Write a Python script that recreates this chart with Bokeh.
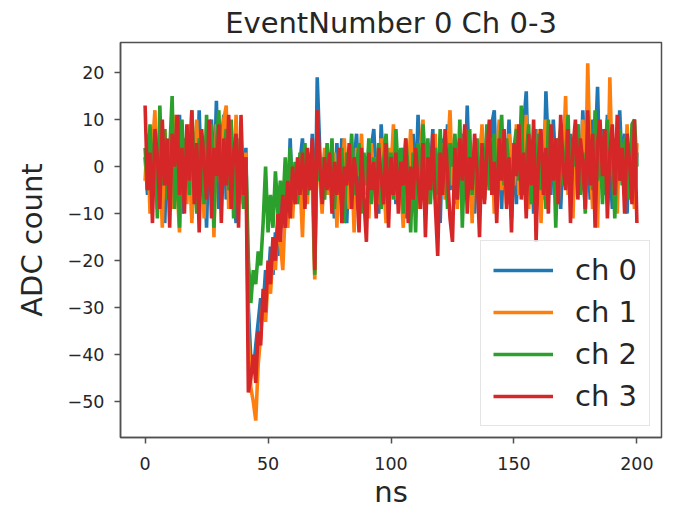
from bokeh.plotting import figure
from bokeh.embed import file_html
from bokeh.resources import INLINE
from bokeh.models import FixedTicker, Range1d, Legend, LegendItem

# ---------------- data (ADC samples, 1 ns spacing) ----------------
t_ns = list(range(0, 201))

ch0 = [2, -6, 8, -3, 10, -9, 4, 7, -12, 5,
       -4, 9, -7, 3, 11, -10, 6, -2, 8, -11,
       4, -8, 12, -5, 2, -13, 7, 10, -6, 14,
       -9, 5, 11, -7, 3, 9, -4, -12, 6, 1,
       -8, 4, -30, -41, -44, -38, -33, -28, -30, -22,
       -25, -17, -23, -14, -19, -8, -13, -4, -10, 6,
       -9, -2, -7, 1, 6, -6, 2, -5, 7, -20,
       19, 4, -9, 3, -6, 2, -3, -11, 5, -7,
       6, -2, -12, 3, -5, 1, 7, -8, 0, -4,
       2, -9, 4, 8, -3, -10, 9, -1, -6, 3,
       -4, 6, -8, 1, -5, 4, -11, 2, -3, 7,
       -6, 11, -4, 0, -9, 5, -2, 8, -7, 1,
       -12, 6, -3, 9, -5, 2, -8, 4, -1, 7,
       -6, 13, -4, 3, -10, 5, 0, 8, -7, 2,
       -5, 9, 12, -6, 3, -9, 6, -2, 10, -4,
       1, -8, 7, -3, 9, 16, -5, 4, -10, 8,
       -2, 5, -7, 16, 3, -6, 10, -1, 6, -9,
       4, 11, -3, 7, -8, 2, 9, -5, 12, -2,
       5, -7, 10, 3, 17, -4, 8, -6, 11, 1,
       -9, 6, -3, 12, -1, 7, -10, 5, 2, -8,
       3]

ch1 = [-3, 7, -10, 4, 12, -6, 1, -13, 8, -2,
       5, -9, 11, -4, -14, 6, 3, -8, 9, -12,
       2, 10, -7, 4, -11, 8, -3, 6, -15, 9,
       3, -6, 10, 13, -9, 5, -4, 11, -8, 2,
       -5, 3, -36, -47, -50, -54, -42, -36, -28, -33,
       -24, -27, -18, -22, -12, -16, -22, -9, -13, -4,
       -11, 0, -7, -3, -15, 2, -8, 3, -4, -24,
       8, -2, -10, 4, -6, 1, -8, 3, -13, 2,
       -5, 6, -3, -9, 1, -14, 4, -2, 7, -6,
       0, -11, 5, -4, 2, -8, 6, -3, -12, 4,
       -1, 9, -7, 2, -4, -13, 5, -2, 8, -6,
       1, -9, 4, 10, -3, -8, 2, -5, 7, -11,
       0, 5, -7, 3, 12, -4, 1, -9, 6, -2,
       8, -6, 3, -12, 5, 0, -3, 9, -7, 4,
       -1, 6, -10, 2, 10, -5, 3, -8, 7, 1,
       -4, 9, -6, 4, -2, 11, -9, 3, 6, -5,
       8, -12, 2, 10, -4, 7, -1, 5, -8, 9,
       0, 15, -6, 4, -11, 8, 2, -4, 10, -7,
       22, 1, -9, 6, -13, 9, -3, 5, -8, 19,
       -2, 4, -10, 7, 0, -6, 9, -4, 3, -9,
       5]

ch2 = [4, -5, 9, -2, 6, -11, 13, -4, 8, -7,
       3, 15, -9, 5, -13, 10, -3, 7, -6, 12,
       -1, -10, 6, 3, -8, 11, -4, 9, -13, 5,
       12, -7, 2, 8, -5, 10, -11, 6, 0, 4,
       -9, 2, -20, -29, -22, -25, -18, -21, -12, 0,
       -14, -6, -13, -1, -10, -3, -9, 2, -7, 4,
       -5, 1, -8, 3, -2, 5, -6, 0, 4, -23,
       10, -3, 2, -7, 5, -4, 6, -9, 1, -5,
       4, -12, 3, -2, 7, -6, 0, 5, -10, 3,
       -4, 6, -8, 2, -3, 5, -9, 1, 7, -5,
       3, -7, 8, -2, 4, -10, 6, -1, -14, 3,
       -14, 5, -4, 9, -2, 6, -8, 1, 4, -6,
       8, -3, 2, -9, 5, 0, 7, -4, 10, -13,
       3, -1, 8, -6, 2, 6, -9, 4, -2, 9,
       -5, 1, 7, -8, 3, 11, -4, 6, -1, -11,
       4, 8, -3, 13, -6, 2, 9, -8, 5, 0,
       7, -5, 3, -9, 10, -2, 6, -13, 4, 8,
       -4, 2, 11, -7, 5, 0, 9, -6, 3, -10,
       7, 1, -5, 12, -3, 6, -8, 4, 10, -2,
       5, -11, 3, 8, -4, 6, 1, -7, 9, 10,
       0]

ch3 = [13, -5, 3, -12, 8, 2, -9, 10, -4, 6,
       -13, 7, 0, 11, -6, 4, -10, 9, -3, 12,
       -8, 5, -14, 8, 1, -7, 10, -11, 4, -2,
       9, -12, 6, -4, 11, -9, 3, 7, -13, 11,
       -6, 2, -48, -45, -40, -46, -35, -38, -26, -31,
       -20, -25, -15, -20, -10, -16, -6, -13, -3, -11,
       0, -8, 2, -6, 3, -9, 4, -5, 6, -22,
       12, 1, -8, 2, -5, 3, -10, 1, -6, 4,
       -12, 0, -4, 5, -9, 2, -3, -14, 4, -7,
       -16, 3, -5, 1, -11, 4, -2, -8, 5, -13,
       2, -6, 3, -10, 1, -4, 6, -12, 0, -7,
       4, -3, -9, 5, -15, 2, -5, 7, -8, -19,
       3, -6, 8, -2, -11, -16, 4, -7, 6, -3,
       9, -10, 2, -5, 7, -1, -15, 5, -8, 3,
       10, -6, 1, -12, 6, -3, 8, -9, 2, -14,
       5, -2, 9, -7, 3, -11, 7, -4, 10, -16,
       2, 8, -6, 4, -10, 9, -3, 6, -8, 11,
       0, -5, 8, -12, 4, 10, -7, 6, 1, -9,
       12, -4, 7, -13, 5, 10, -2, 8, -11, 3,
       9, -6, 11, -3, 4, -10, 7, 1, -8, 10,
       -12]

series = [ch0, ch1, ch2, ch3]
labels = ["ch 0", "ch 1", "ch 2", "ch 3"]
colors = ["#1f77b4", "#ff7f0e", "#2ca02c", "#d62728"]
x_ticks = [0, 50, 100, 150, 200]
y_ticks = [-50, -40, -30, -20, -10, 0, 10, 20]

FONT = "DejaVu Sans"
TXT = "#262626"
AXC = "#505050"

p = figure(
    frame_width=541, frame_height=395,
    output_backend="svg", toolbar_location=None,
    x_range=Range1d(-10, 210), y_range=Range1d(-57.6, 26.4),
    min_border_left=120, min_border_right=10,
    min_border_top=41, min_border_bottom=62,
    title="EventNumber 0 Ch 0-3",
)
p.background_fill_color = "white"
p.border_fill_color = "white"
p.grid.visible = False
p.outline_line_color = AXC
p.outline_line_width = 1.5

p.title.text_font = FONT
p.title.text_font_size = "29px"
p.title.text_font_style = "normal"
p.title.text_color = TXT
p.title.align = "center"
p.title.standoff = 6

for ax in (p.xaxis[0], p.yaxis[0]):
    ax.axis_line_color = AXC
    ax.axis_line_width = 1.5
    ax.major_tick_line_color = AXC
    ax.major_tick_line_width = 1.5
    ax.major_tick_out = 6
    ax.major_tick_in = 0
    ax.minor_tick_line_color = None
    ax.major_label_text_font = FONT
    ax.major_label_text_font_size = "17.5px"
    ax.major_label_text_color = TXT
    ax.axis_label_text_font = FONT
    ax.axis_label_text_font_size = "29px"
    ax.axis_label_text_font_style = "normal"
    ax.axis_label_text_color = TXT

p.xaxis.ticker = FixedTicker(ticks=x_ticks)
p.yaxis.ticker = FixedTicker(ticks=y_ticks)
p.xaxis.axis_label = "ns"
p.yaxis.axis_label = "ADC count"
p.xaxis.major_label_standoff = 13
p.yaxis.major_label_standoff = 10
p.xaxis.axis_label_standoff = 2
p.yaxis.axis_label_standoff = 16

items = []
for ys, lab, col in zip(series, labels, colors):
    r = p.line(t_ns, ys, line_color=col, line_width=3.6)
    items.append(LegendItem(label=lab, renderers=[r]))

legend = Legend(items=items, location="bottom_right")
legend.label_text_font = FONT
legend.label_text_font_size = "29px"
legend.label_text_color = TXT
legend.glyph_width = 60
legend.glyph_height = 30
legend.label_standoff = 22
legend.spacing = 8
legend.padding = 12
legend.margin = 11
legend.border_line_color = "#cccccc"
legend.border_line_width = 1.5
legend.background_fill_color = "white"
legend.background_fill_alpha = 0.8
p.add_layout(legend, "center")

open("out.html", "w").write(file_html(p, INLINE))
